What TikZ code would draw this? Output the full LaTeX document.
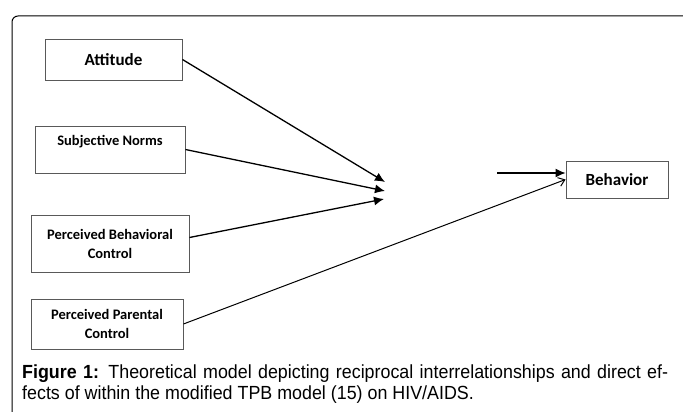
\documentclass[tikz,border=0pt]{standalone}
\usepackage{fontspec}
\setmainfont{Carlito}
\newfontfamily\capfont[FakeStretch=0.94]{Liberation Sans}
\usetikzlibrary{arrows.meta}

\tikzset{
    box/.style={draw=black!65, line width=0.9pt, rectangle, inner sep=0pt, align=center,
        font=\bfseries\fontsize{14.5}{19}\selectfont},
    bigbox/.style={box, font=\bfseries\fontsize{17}{20}\selectfont},
    link/.style={line width=1.3pt, -{Latex[length=10pt,width=9pt]}},
    openlink/.style={line width=1pt, -{Straight Barb[length=6pt,width=9pt]}},
    captext/.style={anchor=base west, inner sep=0pt, font=\capfont\fontsize{19}{21}\selectfont}
}

\begin{document}
\begin{tikzpicture}[x=1pt,y=-1pt]
    \useasboundingbox (0,0) rectangle (683,412);
    \draw[line width=1pt, rounded corners=6pt](12,412)--(12,16)--(683,16);

    \node[bigbox, minimum width=137, minimum height=41](att) at (113.5,59.5){Attitude};
    \node[box, minimum width=150, minimum height=47](norms) at (110,149.5){Subjective Norms\\ \mbox{}};
    \node[box, minimum width=158, minimum height=57](pbc) at (110,243.5){Perceived Behavioral\\Control};
    \node[box, minimum width=152, minimum height=50](ppc) at (107,324){Perceived Parental\\Control};
    \node[bigbox, minimum width=102, minimum height=37](beh) at (617,179.5){Behavior};

    \coordinate(m1) at (385,182);
    \coordinate(m2) at (385,191);
    \coordinate(m3) at (384,199);
    \coordinate(src) at (497,173);

    \draw[link](att.east)--(m1);
    \draw[link](norms.east)--(m2);
    \draw[link]([yshift=6pt]pbc.east)--(m3);
    \draw[link](src)--(src -| beh.west);
    \draw[openlink](ppc.east)--(beh.west);

    \node[captext](cap1) at (22,378){\makebox[646pt][s]{\textbf{Figure 1:} Theoretical model depicting reciprocal interrelationships and direct ef-}};
    \node[captext](cap2) at (22,399){fects of within the modified TPB model (15) on HIV/AIDS.};
\end{tikzpicture}
\end{document}
